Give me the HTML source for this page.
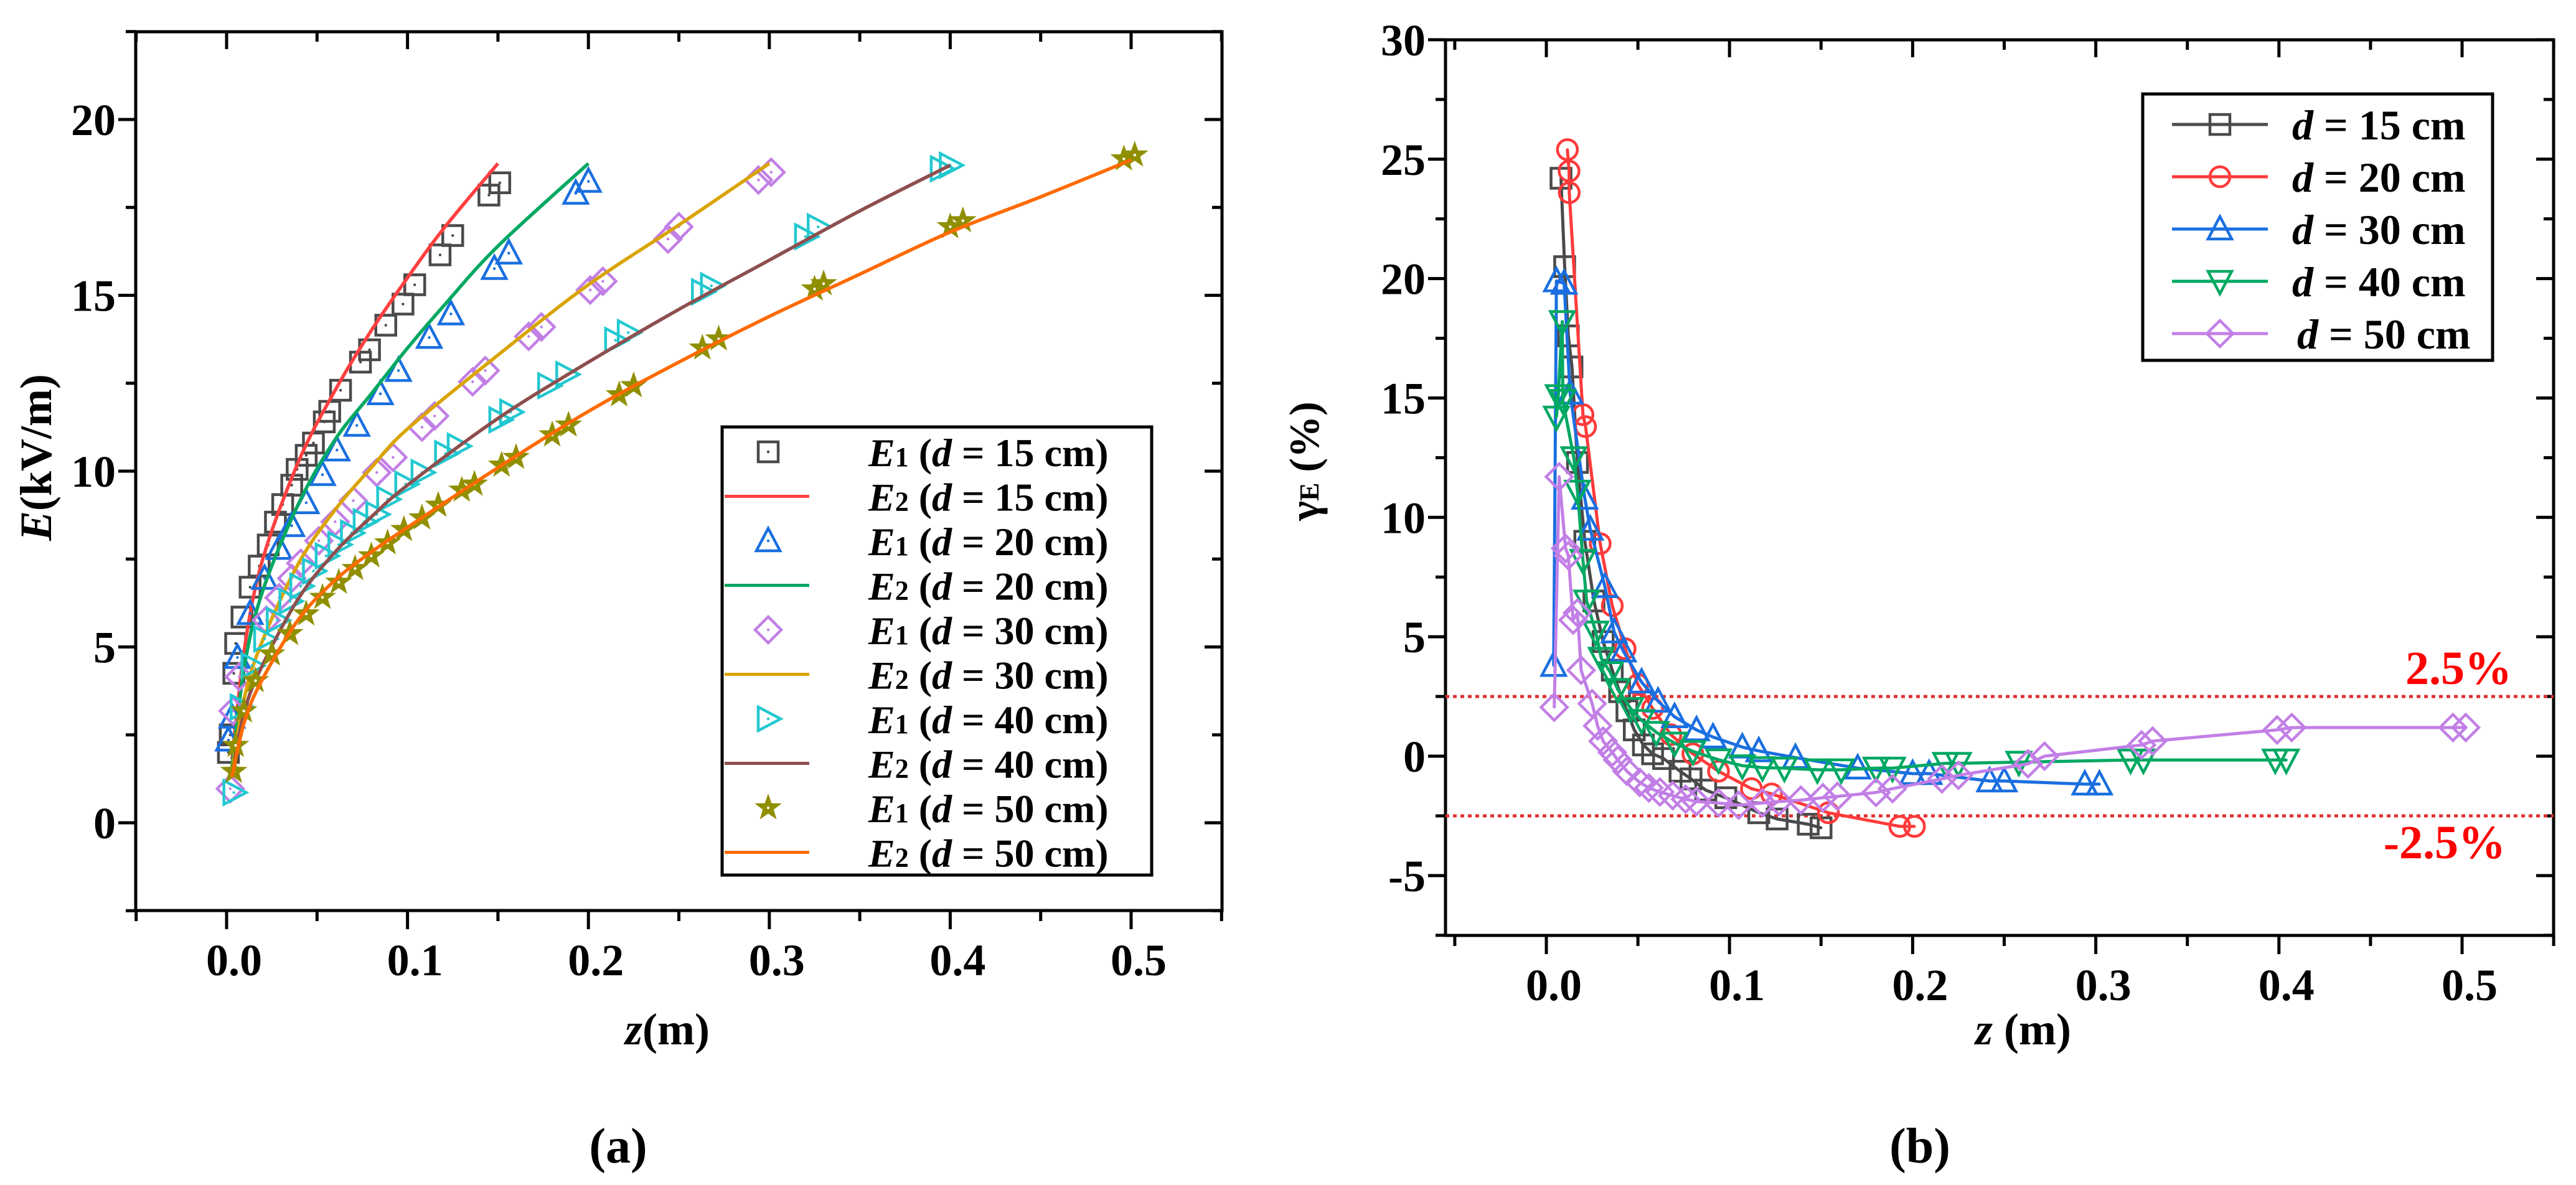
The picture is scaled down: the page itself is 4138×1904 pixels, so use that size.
<!DOCTYPE html>
<html><head><meta charset="utf-8"><style>
html,body{margin:0;padding:0;background:#fff}
svg{display:block}
text{font-family:"Liberation Serif",serif;font-weight:bold;fill:#000}
</style></head><body>
<svg id="svg" width="4138" height="1904" viewBox="0 0 4138 1904" xmlns="http://www.w3.org/2000/svg">
<g id="pa"></g>
<g id="pb"></g>
</svg>
<script>
// ---- Panel (a) data ----
const aXTicks = [0.0, 0.1, 0.2, 0.3, 0.4, 0.5];
const aXTickLabels = ["0.0","0.1","0.2","0.3","0.4","0.5"];
const aYTicks = [0, 5, 10, 15, 20];
const aYTickLabels = ["0","5","10","15","20"];
const e1d15z = [0.001,0.002,0.004,0.005,0.0085,0.013,0.018,0.023,0.027,0.031,0.036,0.039,0.044,0.048,0.054,0.057,0.063,0.074,0.079,0.088,0.0975,0.104,0.118,0.125,0.145,0.151];
const e1d15E = [2.0,2.5,4.25,5.1,5.85,6.7,7.3,7.9,8.55,9.05,9.6,10.05,10.45,10.8,11.4,11.7,12.3,13.1,13.45,14.15,14.75,15.3,16.15,16.7,17.85,18.2];
const e2d15z = [0.003,0.01,0.02,0.04,0.06,0.08,0.1,0.12,0.15];
const e2d15E = [1.8,5.0,7.5,10.3,12.3,14.0,15.5,16.9,18.75];
const e1d20z = [0.001,0.003,0.006,0.013,0.021,0.029,0.036,0.044,0.053,0.061,0.072,0.085,0.095,0.112,0.124,0.148,0.156,0.193,0.2];
const e1d20E = [2.35,3.0,4.7,5.95,6.95,7.8,8.45,9.1,9.9,10.6,11.3,12.2,12.86,13.8,14.47,15.76,16.2,17.9,18.24];
const e2d20z = [0.003,0.01,0.02,0.04,0.06,0.08,0.1,0.12,0.15,0.2];
const e2d20E = [1.6,4.5,6.6,9.1,10.9,12.2,13.5,14.7,16.4,18.75];
const e1d30z = [0.002,0.0035,0.007,0.022,0.029,0.036,0.041,0.051,0.06,0.07,0.083,0.092,0.108,0.115,0.136,0.143,0.167,0.174,0.201,0.208,0.244,0.25,0.294,0.301];
const e1d30E = [0.97,3.18,4.15,5.76,6.4,6.95,7.38,8.02,8.56,9.16,9.96,10.39,11.25,11.57,12.54,12.86,13.83,14.1,15.15,15.4,16.6,16.95,18.28,18.5];
const e2d30z = [0.003,0.01,0.02,0.04,0.06,0.08,0.1,0.15,0.2,0.25,0.3];
const e2d30E = [1.5,3.6,5.2,7.4,8.9,10.1,11.2,13.3,15.3,17.0,18.75];
const e1d40z = [0.004,0.008,0.014,0.021,0.028,0.035,0.041,0.048,0.055,0.062,0.069,0.076,0.083,0.089,0.099,0.108,0.121,0.128,0.151,0.157,0.178,0.188,0.215,0.222,0.263,0.268,0.32,0.327,0.395,0.4];
const e1d40E = [0.86,3.29,4.47,5.23,5.76,6.3,6.73,7.16,7.59,7.91,8.24,8.56,8.77,9.2,9.63,9.96,10.5,10.71,11.46,11.68,12.43,12.75,13.72,13.94,15.1,15.27,16.67,16.95,18.6,18.7];
const e2d40z = [0.003,0.01,0.02,0.04,0.06,0.08,0.1,0.15,0.2,0.25,0.3,0.35,0.4];
const e2d40E = [1.4,3.2,4.5,6.4,7.7,8.7,9.6,11.5,13.1,14.6,16.0,17.4,18.7];
const e1d50z = [0.004,0.005,0.0095,0.016,0.025,0.035,0.044,0.053,0.062,0.071,0.08,0.089,0.098,0.108,0.117,0.13,0.137,0.152,0.16,0.18,0.189,0.217,0.225,0.263,0.272,0.325,0.33,0.4,0.407,0.496,0.502];
const e1d50E = [1.46,2.2,3.18,4.04,4.8,5.38,5.94,6.41,6.84,7.23,7.59,7.96,8.34,8.67,9.03,9.46,9.63,10.17,10.39,11.03,11.31,12.17,12.43,13.5,13.76,15.18,15.33,16.95,17.12,18.88,18.99];
const e2d50z = [0.003,0.01,0.02,0.04,0.06,0.08,0.1,0.15,0.2,0.25,0.3,0.35,0.4,0.45,0.5];
const e2d50E = [1.3,2.9,4.1,5.8,6.9,7.7,8.4,10.1,11.7,13.1,14.4,15.6,16.8,17.8,18.85];

// ---- Panel (b) data ----
const bXTicks = [0.0, 0.1, 0.2, 0.3, 0.4, 0.5];
const bXTickLabels = ["0.0","0.1","0.2","0.3","0.4","0.5"];
const bYTicks = [-5, 0, 5, 10, 15, 20, 25, 30];
const bYTickLabels = ["-5","0","5","10","15","20","25","30"];
const g15z = [0.008,0.01,0.012,0.014,0.017,0.021,0.026,0.031,0.036,0.04,0.044,0.048,0.053,0.058,0.064,0.073,0.079,0.087,0.098,0.116,0.126,0.143,0.15];
const g15v = [24.2,20.5,17.6,16.3,12.3,9.0,6.5,4.8,3.6,2.7,1.9,1.1,0.47,0.1,-0.1,-0.63,-0.95,-1.42,-1.74,-2.37,-2.63,-2.85,-3.0];
const g20z = [0.0115,0.0124,0.0125,0.02,0.0214,0.0294,0.036,0.043,0.05,0.058,0.068,0.08,0.094,0.112,0.123,0.154,0.193,0.201];
const g20v = [25.4,24.5,23.6,14.3,13.8,8.9,6.3,4.5,3.0,2.0,0.9,0.1,-0.63,-1.36,-1.58,-2.37,-2.94,-2.94];
const g30z = [0.004,0.0055,0.0097,0.013,0.021,0.024,0.032,0.037,0.042,0.052,0.061,0.07,0.082,0.091,0.107,0.116,0.136,0.17,0.2,0.209,0.242,0.25,0.294,0.302];
const g30v = [3.8,19.9,19.8,15.2,10.8,9.5,7.1,5.2,4.4,3.1,2.3,1.65,1.1,0.8,0.38,0.22,-0.06,-0.5,-0.73,-0.73,-1.04,-1.04,-1.17,-1.17];
const g40z = [0.0055,0.0065,0.0087,0.009,0.015,0.017,0.02,0.022,0.027,0.03,0.035,0.039,0.046,0.052,0.06,0.07,0.08,0.094,0.107,0.118,0.13,0.148,0.161,0.18,0.189,0.218,0.225,0.258,0.319,0.326,0.398,0.404];
const g40v = [14.2,15.1,18.2,14.9,12.5,11.1,8.2,6.5,5.2,4.1,3.5,2.8,2.0,1.5,1.0,0.55,0.2,-0.15,-0.4,-0.48,-0.5,-0.57,-0.57,-0.5,-0.5,-0.3,-0.3,-0.25,-0.16,-0.16,-0.16,-0.16];
const g50z = [0.0043,0.007,0.0105,0.012,0.0146,0.017,0.019,0.025,0.028,0.031,0.036,0.039,0.044,0.051,0.056,0.062,0.069,0.076,0.082,0.094,0.105,0.118,0.127,0.139,0.151,0.159,0.18,0.189,0.216,0.225,0.263,0.272,0.325,0.331,0.399,0.407,0.495,0.502];
const g50v = [2.05,11.7,8.7,8.4,5.7,6.0,3.6,2.2,1.27,0.63,0.16,-0.16,-0.63,-1.1,-1.33,-1.5,-1.65,-1.8,-1.9,-1.96,-2.05,-1.96,-1.9,-1.84,-1.74,-1.68,-1.52,-1.36,-0.95,-0.8,-0.32,0.0,0.47,0.63,1.1,1.2,1.2,1.2];
const refLines = [2.5, -2.5];
const refLabels = ["2.5%", "-2.5%"];

const NS = "http://www.w3.org/2000/svg";
function mk(parent, tag, attrs) {
  const e = document.createElementNS(NS, tag);
  for (const k in attrs) e.setAttribute(k, attrs[k]);
  parent.appendChild(e);
  return e;
}
const ax = { x0:364, xs:2906, y0:1322, ys:56.5, L:218, R:1963, T:51, B:1463 };
const bx = { x0:2484, xs:2942, y0:1215, ys:38.37, L:2322, R:4102, T:64, B:1503 };
function X(a,v){return a.x0 + v*a.xs;}
function Y(a,v){return a.y0 - v*a.ys;}

function marker(g, type, cx, cy, col) {
  const s = 16, sw = 4.5;
  let el;
  if (type === "sq") el = mk(g,"rect",{x:cx-s,y:cy-s,width:2*s,height:2*s,fill:"none",stroke:col,"stroke-width":sw});
  else if (type === "ci") el = mk(g,"circle",{cx:cx,cy:cy,r:s,fill:"none",stroke:col,"stroke-width":sw});
  else if (type === "tu") el = mk(g,"polygon",{points:`${cx},${cy-s-4} ${cx+s+3},${cy+s} ${cx-s-3},${cy+s}`,fill:"none",stroke:col,"stroke-width":sw});
  else if (type === "td") el = mk(g,"polygon",{points:`${cx},${cy+s+4} ${cx+s+3},${cy-s} ${cx-s-3},${cy-s}`,fill:"none",stroke:col,"stroke-width":sw});
  else if (type === "tr") el = mk(g,"polygon",{points:`${cx+s+4},${cy} ${cx-s},${cy-s-3} ${cx-s},${cy+s+3}`,fill:"none",stroke:col,"stroke-width":sw});
  else if (type === "di") el = mk(g,"polygon",{points:`${cx},${cy-s-5} ${cx+s+5},${cy} ${cx},${cy+s+5} ${cx-s-5},${cy}`,fill:"none",stroke:col,"stroke-width":sw});
  else if (type === "st") {
    let p = [];
    for (let i=0;i<10;i++){const r = i%2?8:20; const a = -Math.PI/2 + i*Math.PI/5; p.push((cx+r*Math.cos(a)).toFixed(1)+","+(cy+r*Math.sin(a)).toFixed(1));}
    el = mk(g,"polygon",{points:p.join(" "),fill:col,stroke:col,"stroke-width":2});
  }
  
  
  const d = mk(g,"circle",{cx:cx,cy:cy,r:2.2,fill:type==="st"?"#fff":col});
  
  
}
function polyline(g, a, zs, vs, col, w) {
  const pts = zs.map((z,i)=>X(a,z).toFixed(1)+","+Y(a,vs[i]).toFixed(1)).join(" ");
  return mk(g,"polyline",{points:pts,fill:"none",stroke:col,"stroke-width":w,"stroke-linejoin":"round"});
}
function smooth(g, a, zs, vs, col, w) {
  const P = zs.map((z,i)=>[X(a,z), Y(a,vs[i])]);
  let d = `M${P[0][0].toFixed(1)},${P[0][1].toFixed(1)}`;
  for (let i=0;i<P.length-1;i++){
    const p0 = P[Math.max(0,i-1)], p1 = P[i], p2 = P[i+1], p3 = P[Math.min(P.length-1,i+2)];
    const c1 = [p1[0]+(p2[0]-p0[0])/6, p1[1]+(p2[1]-p0[1])/6];
    const c2 = [p2[0]-(p3[0]-p1[0])/6, p2[1]-(p3[1]-p1[1])/6];
    d += ` C${c1[0].toFixed(1)},${c1[1].toFixed(1)} ${c2[0].toFixed(1)},${c2[1].toFixed(1)} ${p2[0].toFixed(1)},${p2[1].toFixed(1)}`;
  }
  return mk(g,"path",{d:d,fill:"none",stroke:col,"stroke-width":w});
}
function frame(g, a, xt, xl, yt, yl, minorX, minorY) {
  const r = mk(g,"rect",{x:a.L,y:a.T,width:a.R-a.L,height:a.B-a.T,fill:"none",stroke:"#000","stroke-width":5});
  
  
  xt.forEach((v,i)=>{
    const x = X(a,v);
    mk(g,"line",{x1:x,y1:a.B,x2:x,y2:a.B+30,stroke:"#000","stroke-width":5});
    mk(g,"line",{x1:x,y1:a.T,x2:x,y2:a.T+28,stroke:"#000","stroke-width":5});
    const t = mk(g,"text",{x:x+12,y:a.B+104,"font-size":72,"text-anchor":"middle"});
    t.textContent = xl[i];
    
    
  });
  minorX.forEach(v=>{
    const x = X(a,v);
    mk(g,"line",{x1:x,y1:a.B,x2:x,y2:a.B+17,stroke:"#000","stroke-width":5});
    mk(g,"line",{x1:x,y1:a.T,x2:x,y2:a.T+16,stroke:"#000","stroke-width":5});
  });
  yt.forEach((v,i)=>{
    const y = Y(a,v);
    mk(g,"line",{x1:a.L-28,y1:y,x2:a.L,y2:y,stroke:"#000","stroke-width":5});
    mk(g,"line",{x1:a.R-28,y1:y,x2:a.R,y2:y,stroke:"#000","stroke-width":5});
    const t = mk(g,"text",{x:a.L-32,y:y+25,"font-size":72,"text-anchor":"end"});
    t.textContent = yl[i];
    
    
  });
  minorY.forEach(v=>{
    const y = Y(a,v);
    mk(g,"line",{x1:a.L-16,y1:y,x2:a.L,y2:y,stroke:"#000","stroke-width":5});
    mk(g,"line",{x1:a.R-16,y1:y,x2:a.R,y2:y,stroke:"#000","stroke-width":5});
  });
}

// ---------- Panel A ----------
const pa = document.getElementById("pa");
frame(pa, ax, aXTicks, aXTickLabels, aYTicks, aYTickLabels, [-0.05,0.05,0.15,0.25,0.35,0.45,0.55], [-2.5,2.5,7.5,12.5,17.5,22.5]);
const aSeries = [
  {m:"sq", z:e1d15z, v:e1d15E, col:"#4a4a4a"},
  {m:"tu", z:e1d20z, v:e1d20E, col:"#1a6fe0"},
  {m:"di", z:e1d30z, v:e1d30E, col:"#c27fe6"},
  {m:"tr", z:e1d40z, v:e1d40E, col:"#22c8d0"},
  {m:"st", z:e1d50z, v:e1d50E, col:"#8f8f00"}
];
const aLines = [
  {z:e2d15z, v:e2d15E, col:"#ff4040"},
  {z:e2d20z, v:e2d20E, col:"#00a862"},
  {z:e2d30z, v:e2d30E, col:"#d9a400"},
  {z:e2d40z, v:e2d40E, col:"#8e4f4f"},
  {z:e2d50z, v:e2d50E, col:"#ff6a00"}
];
aSeries.forEach((s,k)=>{
  const g = mk(pa,"g",{});
  
  
  s.z.forEach((z,i)=>marker(g, s.m, X(ax,z), Y(ax,s.v[i]), s.col));
  const l = aLines[k];
  const p = smooth(pa, ax, l.z, l.v, l.col, 5.5);
  
  
});
const lgA = mk(pa,"g",{});


mk(lgA,"rect",{x:1160,y:686,width:690,height:720,fill:"#fff",stroke:"#000","stroke-width":5});
const dVals = ["15","20","30","40","50"];
for (let i=0;i<10;i++){
  const y = 726 + i*71.5;
  const k = Math.floor(i/2);
  if (i%2===0) marker(lgA, aSeries[k].m, 1234, y, aSeries[k].col);
  else { const ln = mk(lgA,"line",{x1:1164,y1:y,x2:1300,y2:y,stroke:aLines[k].col,"stroke-width":5});
      }
  const t = mk(lgA,"text",{x:1395,y:y+23,"font-size":64});
  
  
  t.innerHTML = `<tspan font-style="italic">E</tspan><tspan font-size="44">${i%2?2:1}</tspan> (<tspan font-style="italic">d</tspan> = ${dVals[k]} cm)`;
}
let t;
t = mk(pa,"text",{x:82,y:735,"font-size":72,"text-anchor":"middle",transform:"rotate(-90 82 735)"});
t.innerHTML = '<tspan font-style="italic">E</tspan>(kV/m)';
 
t = mk(pa,"text",{x:1072,y:1678,"font-size":72,"text-anchor":"middle"});
t.innerHTML = '<tspan font-style="italic">z</tspan>(m)';
 
t = mk(pa,"text",{x:993,y:1868,"font-size":80,"text-anchor":"middle","font-weight":"normal"});
t.innerHTML = '(<tspan font-weight="bold">a</tspan>)';
 

// ---------- Panel B ----------
const pb = document.getElementById("pb");
frame(pb, bx, bXTicks, bXTickLabels, bYTicks, bYTickLabels, [-0.05,0.05,0.15,0.25,0.35,0.45,0.55], [-7.5,-2.5,2.5,7.5,12.5,17.5,22.5,27.5]);
refLines.forEach((v,i)=>{
  const y = Y(bx,v);
  const l = mk(pb,"line",{x1:bx.L,y1:y,x2:bx.R,y2:y,stroke:"#e03030","stroke-width":5,"stroke-dasharray":"6,6"});
  
  
  const tt = mk(pb,"text",{x:i===0?4035:4025,y:i===0?y-20:y+68,"font-size":76,"text-anchor":"end","font-weight":"normal"});
  tt.style.fill = "#ff0000";
  tt.textContent = refLabels[i];
  
  
});
const bSeries = [
  {m:"sq", z:g15z, v:g15v, col:"#4a4a4a", line:"#4a4a4a"},
  {m:"ci", z:g20z, v:g20v, col:"#ff3a3a", line:"#ff3a3a"},
  {m:"tu", z:g30z, v:g30v, col:"#1a6fe0", line:"#1a6fe0"},
  {m:"td", z:g40z, v:g40v, col:"#00a862", line:"#00a862"},
  {m:"di", z:g50z, v:g50v, col:"#c27fe6", line:"#c27fe6"}
];
bSeries.forEach((s,k)=>{
  const g = mk(pb,"g",{});
  
  
  polyline(g, bx, s.z, s.v, s.line, 5);
  s.z.forEach((z,i)=>marker(g, s.m, X(bx,z), Y(bx,s.v[i]), s.col));
});
const lgB = mk(pb,"g",{});


mk(lgB,"rect",{x:3442,y:151,width:562,height:428,fill:"#fff",stroke:"#000","stroke-width":5});
for (let k=0;k<5;k++){
  const y = 200 + k*84;
  mk(lgB,"line",{x1:3489,y1:y,x2:3643,y2:y,stroke:bSeries[k].line,"stroke-width":5});
  marker(lgB, bSeries[k].m, 3566, y, bSeries[k].col);
  const tt = mk(lgB,"text",{x:k===4?3690:3682,y:y+24,"font-size":68});
  tt.innerHTML = `<tspan font-style="italic">d</tspan> = ${dVals[k]} cm`;
  
  
}
t = mk(pb,"text",{x:2118,y:741,"font-size":68,"text-anchor":"middle",transform:"rotate(-90 2118 741)"});
t.innerHTML = 'γ<tspan font-size="44">E</tspan> (%)';
 
t = mk(pb,"text",{x:3250,y:1678,"font-size":72,"text-anchor":"middle"});
t.innerHTML = '<tspan font-style="italic">z</tspan> (m)';
 
t = mk(pb,"text",{x:3084,y:1868,"font-size":80,"text-anchor":"middle","font-weight":"normal"});
t.innerHTML = '(<tspan font-weight="bold">b</tspan>)';
 
</script>
</body></html>
